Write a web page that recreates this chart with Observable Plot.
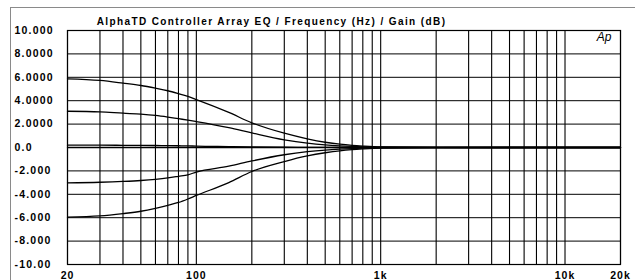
<!DOCTYPE html>
<html>
<head>
<meta charset="utf-8">
<script src="https://cdn.jsdelivr.net/npm/d3@7"></script>
<script src="https://cdn.jsdelivr.net/npm/@observablehq/plot@0.6"></script>
<style>
  html, body { margin: 0; padding: 0; background: #fff; }
  #wrap { position: relative; width: 635px; height: 280px; overflow: hidden; }
  #border { position: absolute; left: 10px; top: 7px; width: 640px; height: 290px;
            border-top: 1px solid #8a8a8a; border-left: 1px solid #8a8a8a; pointer-events: none; }
  svg { font-family: "Liberation Sans", Arial, sans-serif; }
</style>
</head>
<body>
<div id="wrap"><div id="border"></div></div>
<script>
const title = "AlphaTD Controller Array EQ / Frequency (Hz) / Gain (dB)";
const freqs = [20,30,40,50,60,70,80,90,100,150,200,300,400,500,600,700,800,1000,2000,5000,10000,20000];
const gainPlus6  = [5.87,5.73,5.5,5.3,5.07,4.85,4.6,4.36,4.1,3.0,2.11,1.22,0.74,0.45,0.28,0.18,0.12,0.05,0.01,0,0,0];
const gainPlus3  = [3.1,3.05,2.93,2.85,2.74,2.6,2.46,2.34,2.22,1.7,1.25,0.66,0.37,0.22,0.14,0.09,0.06,0.02,0,0,0,0];
const gainZero   = [0.2,0.2,0.19,0.18,0.17,0.16,0.15,0.14,0.12,0.08,0.05,0.02,0.01,0.01,0,0,0,0,0,0,0,0];
const gainFlat   = [0,0,0,0,0,0,0,0,0,0,0,0,0,0,0,0,0,0,0,0,0,0];
const gainMinus3 = [-3.02,-2.97,-2.9,-2.82,-2.72,-2.6,-2.46,-2.33,-2.1,-1.6,-1.15,-0.62,-0.36,-0.22,-0.14,-0.09,-0.06,-0.02,0,0,0,0];
const gainMinus6 = [-5.95,-5.85,-5.65,-5.45,-5.2,-4.95,-4.7,-4.4,-4.1,-3.0,-2.05,-1.2,-0.72,-0.45,-0.28,-0.18,-0.12,-0.05,-0.01,0,0,0];
const yTicks = [10,8,6,4,2,0,-2,-4,-6,-8,-10];
const yLabels = ["10.000","8.0000","6.0000","4.0000","2.0000","0.0","-2.000","-4.000","-6.000","-8.000","-10.00"];
const xGrid = [20,30,40,50,60,70,80,90,100,200,300,400,500,600,700,800,900,1000,2000,3000,4000,5000,6000,7000,8000,9000,10000,20000];
const xTicks = [20,100,1000,10000,20000];
const xLabels = ["20","100","1k","10k","20k"];

const series = [gainPlus6, gainPlus3, gainZero, gainFlat, gainMinus3, gainMinus6];
const rows = [];
series.forEach((s, k) => s.forEach((g, i) => rows.push({f: freqs[i], g, k})));

const yLab = yTicks.map((v, i) => ({v, t: yLabels[i]}));
const xLab = xTicks.map((v, i) => ({v, t: xLabels[i]}));

const chart = Plot.plot({
  width: 635,
  height: 280,
  marginLeft: 67,
  marginRight: 15,
  marginTop: 30,
  marginBottom: 16,
  x: {type: "log", domain: [20, 20000], axis: null},
  y: {domain: [-10, 10], axis: null},
  marks: [
    Plot.ruleX(xGrid, {stroke: "#000", strokeWidth: 1.1}),
    Plot.ruleY(yTicks, {stroke: "#000", strokeWidth: 1}),
    Plot.line(rows, {x: "f", y: "g", z: "k", stroke: "#000", strokeWidth: 1.3, curve: "monotone-x"}),
    Plot.frame({stroke: "#000", strokeWidth: 1.2}),
    Plot.text(yLab, {y: "v", text: "t", frameAnchor: "left", dx: -53, textAnchor: "start",
      fontWeight: "bold", fontSize: 10.5, fill: "#000"}),
    Plot.text(xLab, {x: "v", text: "t", frameAnchor: "bottom", dy: 14,
      fontWeight: "bold", fontSize: 10.5, fill: "#000"}),
    Plot.text([title], {frameAnchor: "top-left", dx: 204, dy: -13, textAnchor: "middle",
      fontWeight: "bold", fontSize: 10, fill: "#000"}),
    Plot.text(["Ap"], {frameAnchor: "top-right", dx: -9, dy: 2, textAnchor: "end",
      fontStyle: "italic", fontSize: 12, fill: "#000"})
  ]
});
d3.select(chart).selectAll("text").each(function () {
  const t = this.textContent;
  let ls = null;
  if (yLabels.includes(t)) ls = "1.2px";
  else if (xLabels.includes(t)) ls = "1px";
  else if (t === title) ls = "1.4px";
  if (ls) this.style.letterSpacing = ls;
});
document.getElementById("wrap").appendChild(chart);
</script>
</body>
</html>
